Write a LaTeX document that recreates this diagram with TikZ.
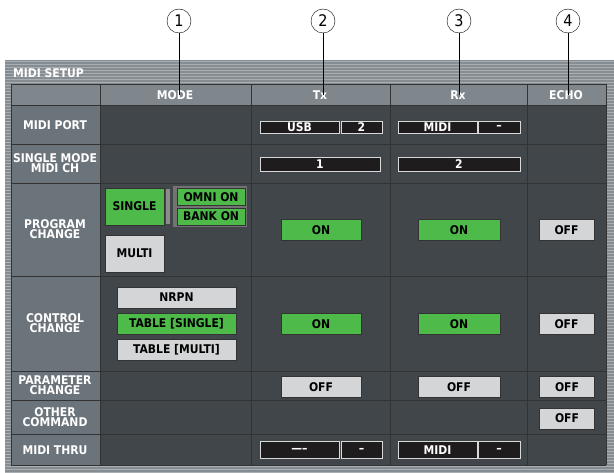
\documentclass[tikz,border=0pt]{standalone}
\usepackage{fontspec}
\setsansfont{DejaVu Sans Condensed}
\usepackage{tikz}
\usetikzlibrary{positioning}
\definecolor{panel}{HTML}{858C92}
\definecolor{stripe}{HTML}{A9AEB2}
\definecolor{cellbg}{HTML}{41464A}
\definecolor{labelbg}{HTML}{6C747B}
\definecolor{headbg}{HTML}{7F878D}
\definecolor{btngreen}{HTML}{4DBA4A}
\definecolor{btngrey}{HTML}{D3D5D7}
\definecolor{selbg}{HTML}{1E1C1C}

\begin{document}
\begin{tikzpicture} [x=1pt, y=-1pt, font=\sffamily\bfseries\fontsize{12}{10.5}\selectfont,
  lab/.style={text=white, align=center, inner sep=0pt},
  btn/.style={draw=black!80, line width=0.8pt, fill=btngrey, text=black, inner sep=0pt, minimum height=21pt},
  gbtn/.style={btn, fill=btngreen},
  sel/.style={draw=white!85!black, fill=selbg, text=white, inner sep=0pt, minimum height=12pt},
  callout/.style={draw, circle, inner sep=0pt, minimum size=24pt, font=\sffamily\fontsize{16}{16}\selectfont}]
\useasboundingbox (0,0) rectangle (614,473);
% panel and stripes
\fill[panel] (5,60) rectangle (614,473);
\foreach \y in {61,64,...,472} \draw[stripe, line width=0.6pt] (5,\y) -- (614,\y);
\node[lab, anchor=west] (title) at (13,73) {MIDI SETUP};
% table cells
\fill[cellbg] (11,84) rectangle (606,465);
\fill[headbg] (11,84) rectangle (606,105);
\fill[labelbg] (11,105) rectangle (100,465);
\foreach \y in {84,105,144,183,276,371,400,434,465} \draw[black!80] (11,\y) -- (606,\y);
\foreach \x in {11,100,251,390,527,606} \draw[black!80] (\x,84) -- (\x,465);
% headers
\node[lab] (hmode) at (175,95) {MODE};
\node[lab] (htx) at (320,95) {Tx};
\node[lab] (hrx) at (458,95) {Rx};
\node[lab] (hecho) at (566,95) {ECHO};
% row labels
\node[lab] (lport) at (55,125) {MIDI PORT};
\node[lab] (lsingle) at (55,163) {SINGLE MODE\\MIDI CH};
\node[lab] (lprog) at (55,229) {PROGRAM\\CHANGE};
\node[lab] (lctrl) at (55,323) {CONTROL\\CHANGE};
\node[lab] (lparam) at (55,385) {PARAMETER\\CHANGE};
\node[lab] (lother) at (55,417) {OTHER\\COMMAND};
\node[lab] (lthru) at (55,450) {MIDI THRU};
% selectors
\node[sel, minimum width=79pt] (txport) at (299.5,127) {USB};
\node[sel, minimum width=41pt] (txportn) at (361.5,127) {2};
\node[sel, minimum width=79pt] (rxport) at (437.5,127) {MIDI};
\node[sel, minimum width=42pt] (rxportn) at (499,127) {--};
\node[sel, minimum width=120pt, minimum height=14pt] (txch) at (320,164) {1};
\node[sel, minimum width=122pt, minimum height=14pt] (rxch) at (459,164) {2};
\node[sel, minimum width=79pt, minimum height=17pt] (txthru) at (299.5,450) {-----};
\node[sel, minimum width=41pt, minimum height=17pt] (txthrun) at (361.5,450) {--};
\node[sel, minimum width=79pt, minimum height=17pt] (rxthru) at (437.5,450) {MIDI};
\node[sel, minimum width=42pt, minimum height=17pt] (rxthrun) at (499,450) {--};
% program change
\fill[black!55] (173,186) rectangle (247,227);
\fill[black!45] (166,189) rectangle (170,224);
\node[gbtn, minimum width=59pt, minimum height=37pt] (single) at (134.5,206.5) {SINGLE};
\node[gbtn, minimum width=68pt, minimum height=17pt] (omni) at (211,197) {OMNI ON};
\node[gbtn, minimum width=68pt, minimum height=17pt] (bank) at (211,216.5) {BANK ON};
\node[btn, minimum width=59pt, minimum height=37pt] (multi) at (134.5,253.5) {MULTI};
\node[gbtn, minimum width=80pt] (txprog) at (321,230) {ON};
\node[gbtn, minimum width=82pt] (rxprog) at (459,230) {ON};
\node[btn, minimum width=55pt] (echoprog) at (566.5,230) {OFF};
% control change
\node[btn, minimum width=119pt] (nrpn) at (176.5,297.5) {NRPN};
\node[gbtn, minimum width=119pt] (tsingle) at (176.5,324) {TABLE [SINGLE]};
\node[btn, minimum width=119pt] (tmulti) at (176.5,350) {TABLE [MULTI]};
\node[gbtn, minimum width=80pt] (txctrl) at (321,324) {ON};
\node[gbtn, minimum width=82pt] (rxctrl) at (459,324) {ON};
\node[btn, minimum width=55pt] (echoctrl) at (566.5,324) {OFF};
% parameter change, other command
\node[btn, minimum width=80pt] (txparam) at (321,387) {OFF};
\node[btn, minimum width=82pt] (rxparam) at (459,387) {OFF};
\node[btn, minimum width=55pt] (echoparam) at (567,387) {OFF};
\node[btn, minimum width=55pt] (echoother) at (567,418.5) {OFF};
% callouts
\node[callout] (c1) at (179,21) {1};
\node[callout] (c2) at (323,21) {2};
\node[callout] (c3) at (459,21) {3};
\node[callout] (c4) at (568,21) {4};
\coordinate (e1) at (179,95);
\coordinate (e2) at (323,95);
\coordinate (e3) at (459,95);
\coordinate (e4) at (568,95);
\foreach \i in {1,2,3,4} \draw[line width=0.9pt] (c\i) -- (e\i);
\end{tikzpicture}
\end{document}
